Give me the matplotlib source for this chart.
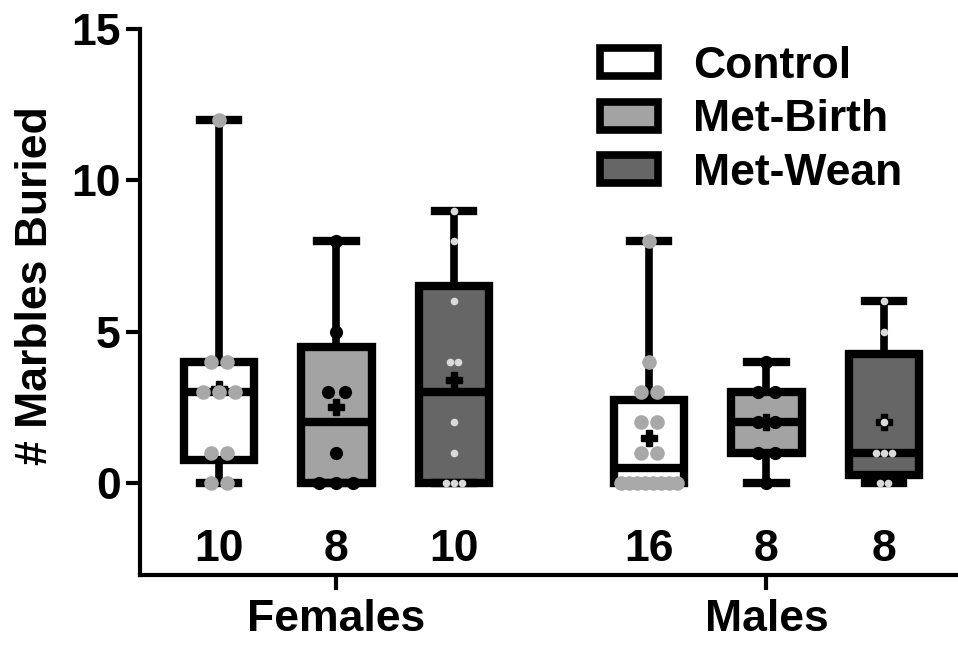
import numpy as np
import matplotlib.pyplot as plt
from matplotlib.patches import Patch

plt.rcParams['font.family'] = ['Liberation Sans', 'DejaVu Sans']
plt.rcParams['font.weight'] = 'bold'

# data (marbles buried per animal)
groups = ['Females', 'Males']
treatments = ['Control', 'Met-Birth', 'Met-Wean']

fem_control = [0, 0, 1, 1, 3, 3, 3, 4, 4, 12]
fem_birth = [0, 0, 0, 1, 3, 3, 5, 8]
fem_wean = [0, 0, 0, 1, 2, 4, 4, 6, 8, 9]
male_control = [0, 0, 0, 0, 0, 0, 0, 0, 1, 1, 2, 2, 3, 3, 4, 8]
male_birth = [0, 1, 1, 2, 2, 3, 3, 4]
male_wean = [0, 0, 1, 1, 1, 2, 5, 6]

all_data = [fem_control, fem_birth, fem_wean, male_control, male_birth, male_wean]

# styling
box_colors = ['white', '#a3a3a3', '#666666']
dot_colors = ['#a8a8a8', 'black', '#dadada']
dot_sizes = [10.5, 9.5, 5.5]
dot_step = [0.14, 0.145, 0.065]

group_gap = 1.66
positions = [1, 2, 3, 3 + group_gap, 4 + group_gap, 5 + group_gap]


def box_stats(vals):
    # quartiles the way prism does it: (n+1)p
    v = np.asarray(vals, dtype=float)
    q1, med, q3 = np.percentile(v, [25, 50, 75], method='weibull')
    return dict(med=med, q1=q1, q3=q3, whislo=v.min(), whishi=v.max(),
                mean=v.mean(), fliers=[])


def swarm(vals, step, maxspread=0.47):
    vals = np.asarray(vals)
    offs = np.zeros(len(vals))
    for u in np.unique(vals):
        idx = np.where(vals == u)[0]
        k = len(idx)
        if k > 1:
            s = min(step, maxspread / (k - 1))
            offs[idx] = (np.arange(k) - (k - 1) / 2) * s
    return offs


fig = plt.figure(figsize=(9.58, 6.45), dpi=100)
ax = fig.add_axes([140 / 958, 1 - 575 / 645, 1 - 140 / 958, (575 - 29) / 645])

lw = 6
fs = 32
stats = [box_stats(d) for d in all_data]
bp = ax.bxp(stats, positions=positions, widths=0.6, patch_artist=True,
            showmeans=True, showfliers=False,
            boxprops=dict(linewidth=lw, edgecolor='black'),
            medianprops=dict(color='black', linewidth=lw),
            whiskerprops=dict(color='black', linewidth=lw - 0.5),
            capprops=dict(color='black', linewidth=lw),
            meanprops=dict(marker='P', markerfacecolor='black',
                           markeredgecolor='black', markersize=11),
            capwidths=0.33)

for i, patch in enumerate(bp['boxes']):
    patch.set_facecolor(box_colors[i % 3])

for i, d in enumerate(all_data):
    k = i % 3
    xs = positions[i] + swarm(d, dot_step[k])
    ax.plot(xs, d, 'o', color=dot_colors[k], markersize=dot_sizes[k],
            markeredgewidth=0, zorder=5, clip_on=False)
    ax.text(positions[i], -2.2, str(len(d)), ha='center', va='center',
            fontsize=fs, fontweight='bold')

ax.set_ylim(-3.04, 15)
ax.set_xlim(0.328, 7.29)
ax.set_yticks([0, 5, 10, 15])
ax.set_xticks([positions[1], positions[4]])
ax.set_xticklabels(groups)
ax.set_ylabel('# Marbles Buried', fontsize=fs, fontweight='bold')
ax.yaxis.set_label_coords(-0.103, 0.53)

for side in ['top', 'right']:
    ax.spines[side].set_visible(False)
for side in ['left', 'bottom']:
    ax.spines[side].set_linewidth(3)
ax.tick_params(axis='both', width=3, length=10, labelsize=fs, direction='out')
ax.tick_params(axis='y', pad=4)
ax.tick_params(axis='x', length=11, pad=6)

handles = [Patch(facecolor=box_colors[i], edgecolor='black', linewidth=5.5,
                 label=treatments[i]) for i in range(3)]
fig.legend(handles=handles, loc='upper left', bbox_to_anchor=(600 / 958, 1 - 46 / 645),
           frameon=False, fontsize=fs, handlelength=1.3, handleheight=0.6,
           handletextpad=0.8, labelspacing=0.28, borderpad=0, borderaxespad=0)

fig.savefig('out.png', dpi=100)
